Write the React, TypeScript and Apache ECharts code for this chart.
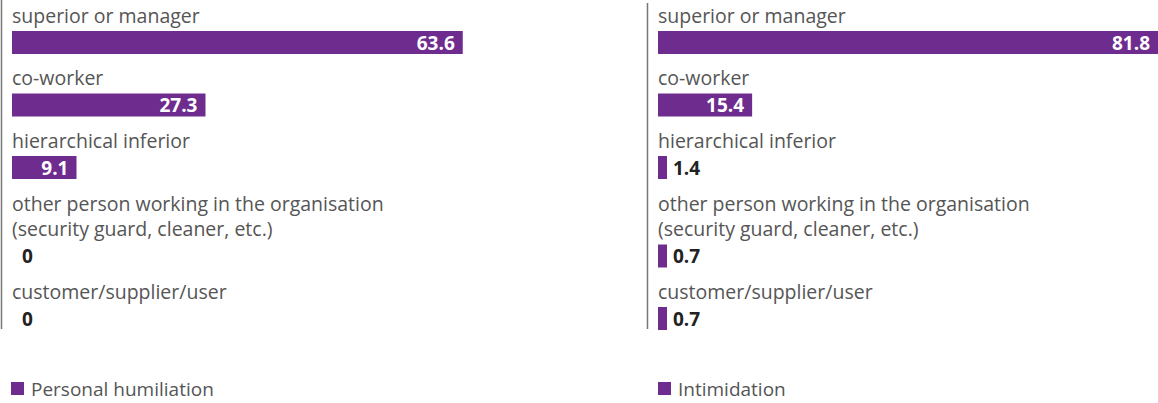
import React, { useEffect, useRef } from 'react';
import * as echarts from 'echarts';

const categories = [
  'superior or manager',
  'co-worker',
  'hierarchical inferior',
  'other person working in the organisation\n(security guard, cleaner, etc.)',
  'customer/supplier/user',
];
const humiliationValues = [63.6, 27.3, 9.1, 0, 0];
const intimidationValues = [81.8, 15.4, 1.4, 0.7, 0.7];
const seriesNames = ['Personal humiliation', 'Intimidation'];

const PURPLE = '#6f2c8f';
const FONT = "'Open Sans', sans-serif";

export default function App() {
  const ref = useRef<HTMLDivElement>(null);
  useEffect(() => {
    const chart = echarts.init(ref.current as HTMLDivElement, null, { renderer: 'svg' });
    const panels = [
      { name: seriesNames[0], values: humiliationValues, left: 12, width: 567, max: 80, axisX: 1.5, axisTop: 0, legendLeft: 11 },
      { name: seriesNames[1], values: intimidationValues, left: 658, width: 500, max: 81.8, axisX: 647.5, axisTop: 3, legendLeft: 658 },
    ];
    const grid: any[] = [];
    const xAxis: any[] = [];
    const yAxis: any[] = [];
    const series: any[] = [];
    const legend: any[] = [];
    const graphic: any[] = [];
    let idx = 0;
    panels.forEach((p) => {
      let top = 31 - 62.5;
      categories.forEach((cat, i) => {
        const v = p.values[i];
        top += 62.5 + (cat.split('\n').length - 1) * 26;
        grid.push({ left: p.left, top, width: p.width, height: 23 });
        xAxis.push({ type: 'value', gridIndex: idx, min: 0, max: p.max, show: false });
        yAxis.push({
          type: 'category',
          gridIndex: idx,
          data: [cat],
          axisLine: { show: false },
          axisTick: { show: false },
          axisLabel: { show: false },
          splitLine: { show: false },
          name: cat,
          nameLocation: 'end',
          nameGap: 3.5,
          nameTextStyle: {
            align: 'left',
            verticalAlign: 'bottom',
            fontSize: 19.5,
            lineHeight: 25,
            color: '#555',
            fontFamily: FONT,
          },
        });
        const px = (v / p.max) * p.width;
        const inside = px > 45;
        series.push({
          type: 'bar',
          name: p.name,
          xAxisIndex: idx,
          yAxisIndex: idx,
          data: [v],
          barWidth: 23,
          barMinHeight: v > 0 ? 9 : 0,
          itemStyle: { color: PURPLE },
          label: {
            show: true,
            position: inside ? 'insideRight' : 'right',
            distance: inside ? 8 : v > 0 ? 6 : 10,
            color: inside ? '#fff' : '#222',
            fontWeight: 'bold',
            fontSize: 19,
            fontFamily: FONT,
            formatter: (d: any) => String(d.value),
          },
        });
        idx++;
      });
      legend.push({
        data: [p.name],
        left: p.legendLeft,
        top: 379,
        icon: 'rect',
        itemWidth: 13,
        itemHeight: 13,
        padding: 0,
        selectedMode: false,
        textStyle: { fontSize: 19, color: '#555', fontFamily: FONT, padding: [0, 0, 0, 2] },
      });
      graphic.push({
        type: 'line',
        shape: { x1: p.axisX, y1: p.axisTop, x2: p.axisX, y2: 329 },
        style: { stroke: '#777', lineWidth: 1.5 },
      });
    });
    chart.setOption({ animation: false, grid, xAxis, yAxis, series, legend, graphic });
    return () => chart.dispose();
  }, []);
  return <div ref={ref} style={{ position: 'absolute', left: 0, top: 0, width: 1158, height: 403 }} />;
}
